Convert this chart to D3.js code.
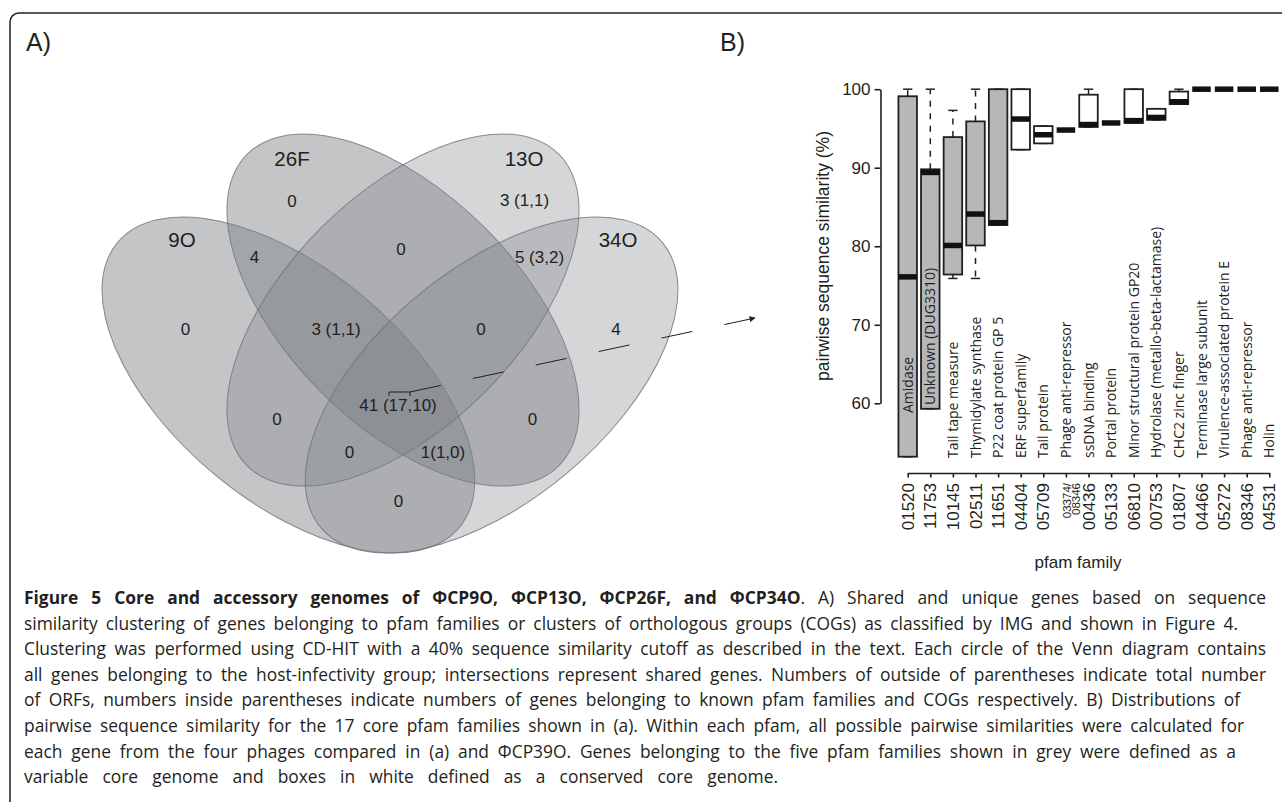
<!DOCTYPE html>
<html><head><meta charset="utf-8">
<script src="https://cdn.jsdelivr.net/npm/d3@7"></script>
<style>
html,body{margin:0;padding:0;background:#fff;}
svg{display:block;}
</style></head><body>
<svg id="fig" width="1282" height="802"></svg>
<script>
// ================= DATA =================
// Panel B: pairwise sequence similarity (%) per core pfam family
const pfamIds = ["01520","11753","10145","02511","11651","04404","05709","03374/08346","00436","05133","06810","00753","01807","04466","05272","08346","04531"];
const pfamNames = ["Amidase","Unknown (DUG3310)","Tail tape measure","Thymidylate synthase","P22 coat protein GP 5","ERF superfamily","Tail protein","Phage anti-repressor","ssDNA binding","Portal protein","Minor structural protein GP20","Hydrolase (metallo-beta-lactamase)","CHC2 zinc finger","Terminase large subunit","Virulence-associated protein E","Phage anti-repressor","Holin"];
const coreType = ["variable","variable","variable","variable","variable","conserved","conserved","conserved","conserved","conserved","conserved","conserved","conserved","conserved","conserved","conserved","conserved"];
const whiskerLow  = [53.2, 59.3, 75.9, 75.9, 82.7, 92.3, 93.1, 94.8, 95.2, 95.7, 95.7, 96.1, 98.1, 100, 100, 100, 100];
const q1          = [53.2, 59.3, 76.4, 80.1, 82.7, 92.3, 93.1, 94.8, 95.2, 95.7, 95.7, 96.1, 98.1, 100, 100, 100, 100];
const medians     = [76.1, 89.4, 80.1, 84.1, 83.0, 96.2, 94.2, 94.8, 95.5, 95.7, 96.0, 96.4, 98.4, 100, 100, 100, 100];
const q3          = [99.1, 89.8, 93.9, 95.9, 100, 100, 95.3, 94.8, 99.3, 95.7, 100, 97.5, 99.7, 100, 100, 100, 100];
const whiskerHigh = [100, 100, 97.3, 100, 100, 100, 95.3, 94.8, 100, 95.7, 100, 97.5, 100, 100, 100, 100, 100];
const yTicks = [60, 70, 80, 90, 100];

// Panel A: Venn diagram counts
const setNames = ["9O", "26F", "13O", "34O"];
const regionSets  = ["9O","26F","13O","34O","9O&26F","26F&13O","13O&34O","9O&26F&13O","26F&13O&34O","9O&26F&13O&34O","9O&13O","26F&34O","9O&13O&34O","9O&26F&34O","9O&34O"];
const regionTotal = [0, 0, 3, 4, 4, 0, 5, 3, 0, 41, 0, 0, 0, 1, 0];
const regionPfam  = [null, null, 1, null, null, null, 3, 1, null, 17, null, null, null, 1, null];
const regionCog   = [null, null, 1, null, null, null, 2, 1, null, 10, null, null, null, 0, null];

// ================= LAYOUT (positions / styles only) =================
const INK = "#231f20";
const SANS = "'Liberation Sans', Arial, Helvetica, sans-serif";
const HUMAN = "'Open Sans', 'Noto Sans', sans-serif";

const ellipseLayout = {
  "9O":  {cx: -114.6, cy: 75, rx: 222.5, ry: 116, rot: 39.8,  alpha: 0.46},
  "26F": {cx: 0,      cy: 0,  rx: 220.3, ry: 116, rot: 45,    alpha: 0.46},
  "13O": {cx: 0,      cy: 0,  rx: 220.3, ry: 116, rot: -45,   alpha: 0.32},
  "34O": {cx: 88.6,   cy: 75, rx: 222.5, ry: 116, rot: -39.8, alpha: 0.32}
};
const setLabelPos = {"9O": [-221, -63], "26F": [-111, -144], "13O": [121, -144], "34O": [215, -63]};
const regionLabelPos = {
  "9O": [-217.5, 25], "26F": [-111, -103], "13O": [121.5, -104], "34O": [213, 25],
  "9O&26F": [-148.5, -47], "26F&13O": [-2, -55], "13O&34O": [136.5, -47],
  "9O&26F&13O": [-67, 25], "26F&13O&34O": [78, 25], "9O&26F&13O&34O": [-5, 101],
  "9O&13O": [-126, 115], "26F&34O": [129.5, 115], "9O&13O&34O": [-53.5, 148],
  "9O&26F&34O": [40, 148], "9O&34O": [-4.5, 197]
};
const tightLabel = {"9O&26F&34O": true};

// ================= DRAW =================
const svg = d3.select("#fig");

// frame
svg.append("rect").attr("x", 10).attr("y", 13).attr("width", 1400).attr("height", 900)
  .attr("rx", 9).attr("fill", "none").attr("stroke", INK).attr("stroke-width", 1.5);

svg.append("text").attr("x", 26).attr("y", 51).attr("font-family", SANS).attr("font-size", 25).attr("fill", INK).text("A)");
svg.append("text").attr("x", 720).attr("y", 51).attr("font-family", SANS).attr("font-size", 25).attr("fill", INK).text("B)");

// ---------- Venn ----------
const vx = d3.scaleLinear().domain([0, 1]).range([403, 404]);
const vy = d3.scaleLinear().domain([0, 1]).range([310, 311]);
const gV = svg.append("g");
setNames.forEach(s => {
  const e = ellipseLayout[s];
  gV.append("ellipse")
    .attr("transform", `translate(${vx(e.cx)},${vy(e.cy)}) rotate(${e.rot})`)
    .attr("rx", e.rx).attr("ry", e.ry)
    .attr("fill", "#7d8086").attr("fill-opacity", e.alpha)
    .attr("stroke", "#6f7277").attr("stroke-opacity", 0.8).attr("stroke-width", 1);
});
setNames.forEach(s => {
  const p = setLabelPos[s];
  gV.append("text").attr("x", vx(p[0])).attr("y", vy(p[1])).attr("text-anchor", "middle")
    .attr("font-family", SANS).attr("font-size", 20.5).attr("fill", INK).text(s);
});
regionSets.forEach((r, i) => {
  const p = regionLabelPos[r];
  let lab = String(regionTotal[i]);
  if (regionPfam[i] !== null) lab += (tightLabel[r] ? "" : " ") + `(${regionPfam[i]},${regionCog[i]})`;
  gV.append("text").attr("x", vx(p[0])).attr("y", vy(p[1])).attr("text-anchor", "middle")
    .attr("font-family", SANS).attr("font-size", 17).attr("fill", INK).text(lab);
});

// bracket + dashed arrow towards panel B
const defs = svg.append("defs");
defs.append("marker").attr("id", "arr").attr("viewBox", "0 0 10 10").attr("refX", 9).attr("refY", 5)
  .attr("markerWidth", 9).attr("markerHeight", 6).attr("markerUnits", "userSpaceOnUse").attr("orient", "auto")
  .append("path").attr("d", "M0,0L10,5L0,10z").attr("fill", INK);
const gA = svg.append("g").attr("stroke", INK).attr("fill", "none").attr("stroke-width", 1);
gA.append("path").attr("d", `M${vx(-14)},${vy(86)}V${vy(82)}H${vx(7)}V${vy(86)}`);
gA.append("line").attr("x1", vx(7)).attr("y1", vy(82)).attr("x2", 755).attr("y2", 318)
  .attr("stroke-dasharray", "31.5,32.8").attr("marker-end", "url(#arr)");

// ---------- Box plot ----------
const idx = d3.range(pfamIds.length);
const x = d3.scalePoint().domain(idx).range([907.7, 1269.3]);
const y = d3.scaleLinear().domain([60, 100]).range([403.3, 89.2]);
const bw = x.step() * 0.82;
const gB = svg.append("g");

const yAx = gB.append("g").attr("transform", "translate(880.5,0)")
  .call(d3.axisLeft(y).tickValues(yTicks).tickSize(6).tickSizeOuter(0).tickPadding(4));
yAx.attr("font-size", 17).attr("font-family", SANS).attr("color", INK);
yAx.selectAll("path,line").attr("stroke-width", 1.6);

const xAx = gB.append("g").attr("transform", "translate(0,473)")
  .call(d3.axisBottom(x).tickSize(4.5).tickSizeOuter(0).tickFormat(""));
xAx.attr("color", INK);
xAx.selectAll("path,line").attr("stroke-width", 1.6);

gB.append("text").attr("transform", "translate(829,256) rotate(-90)").attr("text-anchor", "middle")
  .attr("font-family", SANS).attr("font-size", 17.5).attr("fill", INK).text("pairwise sequence similarity (%)");
gB.append("text").attr("x", 1078).attr("y", 568).attr("text-anchor", "middle")
  .attr("font-family", SANS).attr("font-size", 17).attr("fill", INK).text("pfam family");

// tick labels (pfam ids)
idx.forEach(i => {
  const parts = pfamIds[i].includes("/") ? [pfamIds[i].split("/")[0] + "/", pfamIds[i].split("/")[1]] : [pfamIds[i]];
  if (parts.length === 1) {
    gB.append("text").attr("transform", `translate(${x(i)},483) rotate(-90)`).attr("text-anchor", "end")
      .attr("dy", "0.36em").attr("font-family", SANS).attr("font-size", 17).attr("fill", INK).text(parts[0]);
  } else {
    const offs = [0.5, 10];
    parts.forEach((p, k) => {
      gB.append("text").attr("transform", `translate(${x(i) + offs[k]},483) rotate(-90)`).attr("text-anchor", "end")
        .attr("dy", "0.36em").attr("font-family", SANS).attr("font-size", 11.5).attr("fill", INK).text(p);
    });
  }
});

const boxes = gB.append("g").selectAll("g").data(idx).join("g");
const half = bw / 2, cap = bw / 4;
boxes.each(function(i) {
  const g = d3.select(this), cx = x(i);
  if (whiskerHigh[i] > q3[i]) g.append("line").attr("x1", cx).attr("x2", cx).attr("y1", y(q3[i])).attr("y2", y(whiskerHigh[i]))
    .attr("stroke", INK).attr("stroke-width", 1.5).attr("stroke-dasharray", "6,6.5");
  if (whiskerLow[i] < q1[i]) g.append("line").attr("x1", cx).attr("x2", cx).attr("y1", y(q1[i])).attr("y2", y(whiskerLow[i]))
    .attr("stroke", INK).attr("stroke-width", 1.5).attr("stroke-dasharray", "6,6.5");
  [whiskerHigh[i], whiskerLow[i]].forEach(v => g.append("line").attr("x1", cx - cap).attr("x2", cx + cap)
    .attr("y1", y(v)).attr("y2", y(v)).attr("stroke", INK).attr("stroke-width", 1.5));
  g.append("rect").attr("x", cx - half).attr("y", y(q3[i])).attr("width", bw).attr("height", y(q1[i]) - y(q3[i]))
    .attr("fill", coreType[i] === "variable" ? "#b6b7b9" : "#ffffff").attr("stroke", INK).attr("stroke-width", 1.8);
  g.append("line").attr("x1", cx - half).attr("x2", cx + half).attr("y1", y(medians[i])).attr("y2", y(medians[i]))
    .attr("stroke", "#111").attr("stroke-width", 5.5);
});

// family names
const nameBase = idx.map(i => i === 0 ? 413 : i === 1 ? 405 : 458);
idx.forEach(i => {
  gB.append("text").attr("transform", `translate(${x(i)},${nameBase[i]}) rotate(-90)`).attr("dy", "0.36em")
    .attr("font-family", HUMAN).attr("font-size", 14).attr("fill", INK).text(pfamNames[i]);
});

// ---------- Caption ----------
const captionLines = [
  [["Figure 5 Core and accessory genomes of ΦCP9O, ΦCP13O, ΦCP26F, and ΦCP34O", true], [". A) Shared and unique genes based on sequence", false]],
  [["similarity clustering of genes belonging to pfam families or clusters of orthologous groups (COGs) as classified by IMG and shown in Figure 4.", false]],
  [["Clustering was performed using CD-HIT with a 40% sequence similarity cutoff as described in the text. Each circle of the Venn diagram contains", false]],
  [["all genes belonging to the host-infectivity group; intersections represent shared genes. Numbers of outside of parentheses indicate total number", false]],
  [["of ORFs, numbers inside parentheses indicate numbers of genes belonging to known pfam families and COGs respectively. B) Distributions of", false]],
  [["pairwise sequence similarity for the 17 core pfam families shown in (a). Within each pfam, all possible pairwise similarities were calculated for", false]],
  [["each gene from the four phages compared in (a) and ΦCP39O. Genes belonging to the five pfam families shown in grey were defined as a", false]],
  [["variable core genome and boxes in white defined as a conserved core genome.", false]]
];
const capRight = [1266, 1238, 1266, 1266, 1240, 1244, 1236, 778];
const capX = 24, capY0 = 604, capDY = 25.6;
const gC = svg.append("g").attr("font-family", HUMAN).attr("font-size", 17.4).attr("fill", INK);
captionLines.forEach((ln, k) => {
  const t = gC.append("text").attr("x", capX).attr("y", capY0 + k * capDY);
  ln.forEach(([txt, bold]) => t.append("tspan").attr("font-weight", bold ? 700 : 400).text(txt));
  const nat = t.node().getComputedTextLength();
  const nsp = ln.map(d => d[0]).join("").split(" ").length - 1;
  t.attr("word-spacing", ((capRight[k] - capX) - nat) / nsp);
});
</script>
</body></html>
